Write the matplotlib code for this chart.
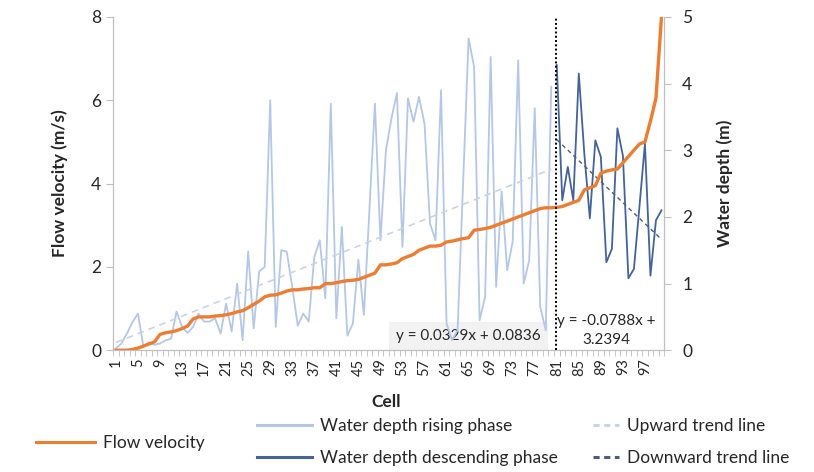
import numpy as np
import matplotlib.pyplot as plt
from matplotlib.lines import Line2D

plt.rcParams['font.family'] = ['Lato', 'DejaVu Sans']

cells = np.arange(1, 101)

# flow velocity (m/s), left axis
velocity = [0.0, 0.0, 0.0, 0.02, 0.05, 0.1, 0.15, 0.2, 0.38, 0.42,
            0.44, 0.47, 0.52, 0.58, 0.75, 0.8, 0.8, 0.8, 0.82, 0.83,
            0.85, 0.88, 0.92, 0.95, 1.02, 1.1, 1.18, 1.28, 1.32, 1.33,
            1.37, 1.42, 1.45, 1.45, 1.47, 1.48, 1.5, 1.5, 1.6, 1.6,
            1.62, 1.65, 1.67, 1.68, 1.7, 1.75, 1.8, 1.85, 2.05, 2.05,
            2.07, 2.1, 2.2, 2.25, 2.3, 2.4, 2.45, 2.5, 2.5, 2.52,
            2.6, 2.62, 2.65, 2.68, 2.7, 2.88, 2.9, 2.92, 2.95, 3.0,
            3.05, 3.1, 3.15, 3.2, 3.25, 3.3, 3.35, 3.4, 3.42, 3.42,
            3.43, 3.45, 3.5, 3.55, 3.6, 3.85, 3.9, 3.95, 4.25, 4.3,
            4.33, 4.35, 4.5, 4.65, 4.8, 4.95, 5.0, 5.5, 6.05, 8.0]

# water depth (m), right axis
rising_cells = np.arange(1, 81)
rising_depth = [0.03, 0.1, 0.25, 0.42, 0.55, 0.05, 0.12, 0.08, 0.1, 0.15,
                0.17, 0.58, 0.35, 0.26, 0.35, 0.55, 0.43, 0.43, 0.48, 0.25,
                0.7, 0.28, 1.0, 0.15, 1.48, 0.33, 1.18, 1.25, 3.75, 0.35,
                1.5, 1.48, 0.95, 0.37, 0.55, 0.43, 1.4, 1.65, 0.78, 3.7,
                0.48, 1.85, 0.22, 0.4, 1.36, 0.53, 2.1, 3.7, 1.65, 3.0,
                3.48, 3.86, 1.55, 3.78, 3.43, 3.8, 3.4, 1.9, 1.65, 3.9,
                0.4, 0.15, 0.3, 2.5, 4.68, 4.25, 0.45, 0.8, 4.4, 0.95,
                2.38, 1.2, 1.63, 4.35, 1.0, 1.35, 3.63, 0.65, 0.3, 3.95]

desc_cells = np.arange(81, 101)
desc_depth = [4.28, 2.25, 2.75, 2.25, 4.15, 2.95, 1.98, 3.15, 2.9, 1.32,
              1.52, 3.33, 2.92, 1.08, 1.22, 2.15, 3.1, 1.12, 1.95, 2.1]

# trend lines as given on the chart (x = index within each series)
up_slope, up_icpt = 0.0329, 0.0836
down_slope, down_icpt = -0.0788, 3.2394

orange = '#ED7D31'
light = '#B4C7E7'
dark = '#44639A'
light_trend = '#C9D3E6'
dark_trend = '#4F5D78'
grey = '#BFBFBF'
txt = '#262626'

fig = plt.figure(figsize=(8.14, 4.72), dpi=100)
ax = fig.add_axes([0.139, 0.258, 0.677, 0.706])
ax2 = ax.twinx()

# water depth series
idx_up = np.arange(1, len(rising_cells) + 1)
idx_down = np.arange(1, len(desc_cells) + 1)
ax2.plot(rising_cells, rising_depth, color=light, lw=1.3, zorder=2)
ax2.plot(desc_cells, desc_depth, color=dark, lw=1.3, zorder=2)
ax2.plot(rising_cells, up_slope * idx_up + up_icpt, color=light_trend,
         lw=1.2, ls=(0, (4, 3)), zorder=2)
ax2.plot(desc_cells, down_slope * idx_down + down_icpt, color=dark_trend,
         lw=1.0, ls=(0, (3, 2.5)), zorder=2)

# flow velocity on top
ax.set_zorder(ax2.get_zorder() + 1)
ax.patch.set_visible(False)
ax.plot(cells, velocity, color=orange, lw=2.4, zorder=3)
ax.axvline(80.8, color='black', ls=(0, (1, 1.2)), lw=1.4, zorder=4)

# trend equations
ax2.text(0.645, 0.042, 'y = 0.0329x + 0.0836', transform=ax2.transAxes,
         ha='center', va='center', fontsize=11, color=txt, zorder=1,
         bbox=dict(boxstyle='square,pad=0.45', fc='#F2F2F2', ec='none'))
ax2.text(0.895, 0.06, 'y = -0.0788x +\n3.2394', transform=ax2.transAxes,
         ha='center', va='center', fontsize=11, color=txt, zorder=1,
         linespacing=1.45,
         bbox=dict(boxstyle='square,pad=0.3', fc='white', ec='none'))

ax.set_xlim(0.5, 100.5)
ax.set_ylim(0, 8)
ax2.set_ylim(0, 5)
ax.set_yticks([0, 2, 4, 6, 8])
ax2.set_yticks([0, 1, 2, 3, 4, 5])

ax.set_xticks(cells[::4])
ax.set_xticklabels([str(c) for c in cells[::4]], rotation=90)
ax.set_xticks(np.arange(0.5, 101, 1), minor=True)
ax.tick_params(axis='x', which='major', length=0, pad=6, labelsize=10.5,
               labelcolor=txt)
ax.tick_params(axis='x', which='minor', length=4, color=grey)
ax.tick_params(axis='y', length=5, color=grey, labelsize=12.5, labelcolor=txt)
ax2.tick_params(axis='y', length=5, pad=8, color=grey, labelsize=12.5,
                labelcolor=txt)

for a in (ax, ax2):
    a.spines['top'].set_visible(False)
    for s in ('left', 'right', 'bottom'):
        a.spines[s].set_color(grey)

ax.set_xlabel('Cell', fontsize=12.5, fontweight='bold', color=txt)
ax.xaxis.set_label_coords(0.495, -0.13)
ax.set_ylabel('Flow velocity (m/s)', fontsize=12.5, fontweight='bold', color=txt)
ax.yaxis.set_label_coords(-0.082, 0.5)
ax2.set_ylabel('Water depth (m)', fontsize=12.5, fontweight='bold', color=txt)
ax2.yaxis.set_label_coords(1.094, 0.5)

# legend in three blocks
leg_kw = dict(frameon=False, fontsize=12.5, labelcolor=txt, handletextpad=0.45,
              borderaxespad=0)
fig.legend([Line2D([], [], color=orange, lw=2.2)], ['Flow velocity'],
           loc='center left', bbox_to_anchor=(0.036, 0.062),
           handlelength=3.4, **leg_kw)
fig.legend([Line2D([], [], color=light, lw=2.2),
            Line2D([], [], color=dark, lw=2.2)],
           ['Water depth rising phase', 'Water depth descending phase'],
           loc='center left', bbox_to_anchor=(0.307, 0.064),
           handlelength=3.2, labelspacing=0.9, **leg_kw)
fig.legend([Line2D([], [], color=light_trend, lw=2.2, ls=(0, (2, 1.5))),
            Line2D([], [], color=dark_trend, lw=2.2, ls=(0, (2, 1.5)))],
           ['Upward trend line', 'Downward trend line'],
           loc='center left', bbox_to_anchor=(0.72, 0.064),
           handlelength=1.5, labelspacing=0.9, **leg_kw)

fig.savefig('out.png', dpi=100)
